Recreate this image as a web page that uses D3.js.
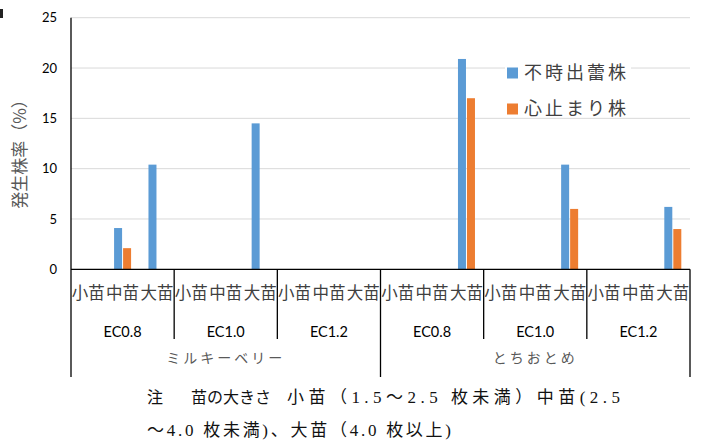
<!DOCTYPE html>
<html>
<head>
<meta charset="utf-8">
<script src="https://cdn.jsdelivr.net/npm/d3@7"></script>
<style>
  html, body { margin: 0; padding: 0; background: #fff; }
  svg { display: block; }
</style>
</head>
<body>
<svg id="chart" width="712" height="442"></svg>
<script>
// Varieties, EC levels and seedling sizes (nested category axis)
const varieties = ["ミルキーベリー", "とちおとめ"];
const ecLevels = ["EC0.8", "EC1.0", "EC1.2"];
const sizes = ["小苗", "中苗", "大苗"];

// Series (%), one value per variety × EC × size, in axis order
const seriesNames = ["不時出蕾株", "心止まり株"];
const budding = [0, 4.1, 10.4, 0, 0, 14.5, 0, 0, 0, 0, 0, 20.9, 0, 0, 10.4, 0, 0, 6.2];
const stopped = [0, 2.1, 0, 0, 0, 0, 0, 0, 0, 0, 0, 17.0, 0, 0, 6.0, 0, 0, 4.0];

const yTicks = [0, 5, 10, 15, 20, 25];

// footnote pieces: [text, x, width, line, font size]
const notePieces = [
  ["注", 147, null, 0, 16],
  ["苗の大きさ", 191, null, 0, 16],
  ["小苗（1.5～2.5 枚未満）中苗(2.5", 287, 333, 0, 17],
  ["～4.0 枚未満)、大苗（4.0 枚以上)", 147, 304, 1, 17]
];

const colors = ["#5b9bd5", "#ed7d31"];
const jpFont = "'Noto Sans CJK JP', sans-serif";
const numFont = "Lato, 'Liberation Sans', sans-serif";
const noteFont = "'Liberation Serif', 'Noto Sans CJK JP', serif";

const svg = d3.select("#chart");
const plotL = 71, plotR = 690, plotT = 17.7, plotB = 269.3;

// flat category keys
const cats = [];
varieties.forEach((v, vi) => ecLevels.forEach((e, ei) => sizes.forEach((s, si) => {
  cats.push({ key: `${vi}-${ei}-${si}`, v, e, s, vi, ei, si });
})));

const x = d3.scaleBand().domain(cats.map(d => d.key)).range([plotL, plotR]).padding(0);
const y = d3.scaleLinear().domain([0, 25]).range([plotB, plotT]);

// gridlines
svg.append("g")
  .selectAll("line").data(yTicks.filter(t => t > 0)).join("line")
  .attr("x1", plotL).attr("x2", plotR)
  .attr("y1", d => y(d)).attr("y2", d => y(d))
  .attr("stroke", "#d9d9d9").attr("stroke-width", 1);

// y axis tick labels
const yAxis = d3.axisLeft(y).tickValues(yTicks).tickSize(0).tickPadding(14);
const ya = svg.append("g").attr("transform", `translate(${plotL},0)`).call(yAxis);
ya.select(".domain").remove();
ya.selectAll("text").attr("font-family", numFont).attr("font-size", 13).attr("fill", "#000");

// y title
svg.append("text")
  .attr("transform", "translate(26,150) rotate(-90)")
  .attr("text-anchor", "middle")
  .attr("font-family", jpFont).attr("font-size", 17).attr("fill", "#595959")
  .text("発生株率（%）");

// bars
const bw = 8;
const seriesData = [budding, stopped];
seriesData.forEach((vals, si) => {
  svg.append("g").selectAll("rect")
    .data(cats.map((c, i) => ({ c, v: vals[i] })).filter(d => d.v > 0))
    .join("rect")
    .attr("x", d => x(d.c.key) + x.bandwidth() / 2 + (si === 0 ? -bw - 0.5 : 0.5))
    .attr("width", bw)
    .attr("y", d => y(d.v))
    .attr("height", d => y(0) - y(d.v))
    .attr("fill", colors[si]);
});

// legend
const lg = svg.append("g");
lg.append("rect").attr("x", 505).attr("y", 55).attr("width", 126).attr("height", 60).attr("fill", "#fff");
seriesNames.forEach((n, i) => {
  const cy = 73 + i * 36;
  lg.append("rect").attr("x", 507).attr("y", cy - 5.5).attr("width", 11).attr("height", 11).attr("fill", colors[i]);
  lg.append("text").attr("x", 524).attr("y", cy).attr("dy", "0.36em")
    .attr("font-family", jpFont).attr("font-size", 18).attr("letter-spacing", 3)
    .attr("fill", "#404040").text(n);
});

// category axis frame
const ax = svg.append("g").attr("stroke", "#000").attr("stroke-width", 1.3);
ax.append("line").attr("x1", plotL).attr("x2", plotL).attr("y1", plotT).attr("y2", 377);
ax.append("line").attr("x1", plotL).attr("x2", plotR).attr("y1", plotB).attr("y2", plotB);
ax.append("line").attr("x1", plotR).attr("x2", plotR).attr("y1", plotB).attr("y2", 377);
// EC group separators
cats.filter(d => d.si === 0 && d.ei > 0).forEach(d => {
  ax.append("line").attr("x1", x(d.key)).attr("x2", x(d.key)).attr("y1", plotB).attr("y2", 339);
});
// variety separators
cats.filter(d => d.si === 0 && d.ei === 0 && d.vi > 0).forEach(d => {
  ax.append("line").attr("x1", x(d.key)).attr("x2", x(d.key)).attr("y1", plotB).attr("y2", 377);
});

// size labels
svg.append("g").selectAll("text").data(cats).join("text")
  .attr("x", d => x(d.key) + x.bandwidth() / 2).attr("y", 293).attr("dy", "0.36em")
  .attr("text-anchor", "middle")
  .attr("font-family", jpFont).attr("font-size", 16.5).attr("fill", "#404040")
  .text(d => d.s);

// EC labels
svg.append("g").selectAll("text").data(cats.filter(d => d.si === 1)).join("text")
  .attr("x", d => x(d.key) + x.bandwidth() / 2).attr("y", 332).attr("dy", "0.36em")
  .attr("text-anchor", "middle")
  .attr("font-family", numFont).attr("font-size", 14.5).attr("fill", "#000")
  .text(d => d.e);

// variety labels
svg.append("g").selectAll("text").data(cats.filter(d => d.si === 1 && d.ei === 1)).join("text")
  .attr("x", d => x(d.key) + x.bandwidth() / 2).attr("y", 358).attr("dy", "0.36em")
  .attr("text-anchor", "middle")
  .attr("font-family", jpFont).attr("font-size", 14).attr("letter-spacing", 3)
  .attr("fill", "#595959")
  .text(d => d.v);

// footnote
notePieces.forEach(([t, px, w, line, fs]) => {
  const el = svg.append("text").attr("x", px).attr("y", 403 + line * 33)
    .attr("font-family", noteFont)
    .attr("font-size", fs).attr("fill", "#111")
    .text(t);
  if (w) el.attr("textLength", w).attr("lengthAdjust", "spacing");
});

// small page mark at the upper left
svg.append("rect").attr("x", 0).attr("y", 9).attr("width", 3).attr("height", 9).attr("fill", "#222");
</script>
</body>
</html>
